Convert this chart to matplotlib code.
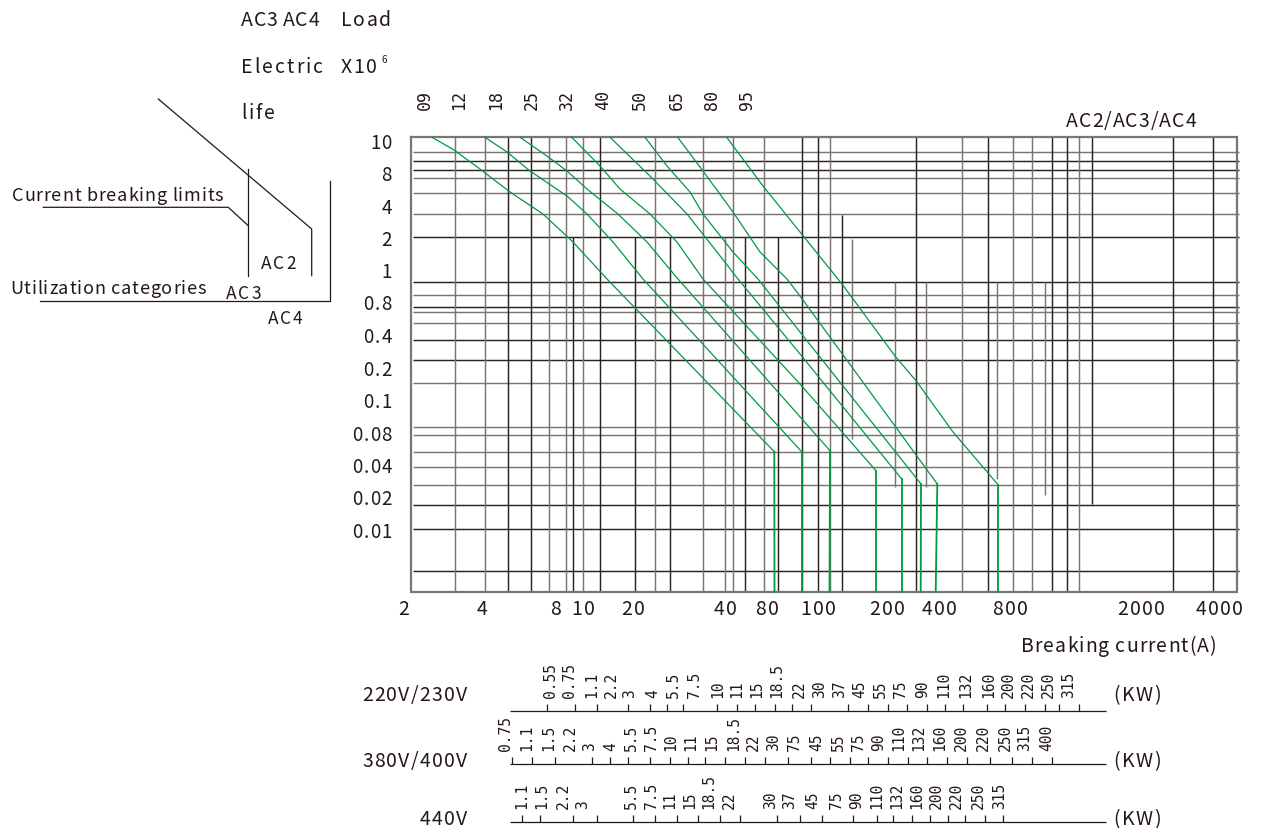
import matplotlib.pyplot as plt
from matplotlib.font_manager import findfont, FontProperties
from matplotlib.ft2font import FT2Font

# The chart is a schematic: the scales are not true log scales, so every
# element is placed in a pixel-like layout space (x to the right, y down).

TEXT = '#231815'
DARK = '#2b2321'
GREY = '#7a7473'
GREEN = '#009944'
SANS = ['Noto Sans CJK SC', 'DejaVu Sans']
MONO = 'DejaVu Sans Mono'
DPI = 100

# 1. Data.
# Electric life axis (x10^6 operations).
life_labels = ['10', '8', '4', '2', '1', '0.8', '0.4', '0.2', '0.1',
               '0.08', '0.04', '0.02', '0.01']
life_pos = [142, 174, 207, 239, 271, 303, 336, 369, 401, 434, 466, 498, 531]

# Breaking current axis (A).
current_labels = ['2', '4', '8', '10', '20', '40', '80', '100', '200',
                  '400', '800', '2000', '4000']
current_pos = [404, 482, 556, 583, 633, 725, 767, 818, 887, 939, 1010,
               1141, 1219]

# Contactor frame sizes along the top.
frame_labels = ['09', '12', '18', '25', '32', '40', '50', '65', '80', '95']
frame_pos = [425, 459, 496, 532, 567, 603, 640, 677, 712, 747]

# Grid lines.
hgrid = [152.5, 161.7, 171, 179.3, 194, 215, 238.3, 282.5, 296, 307.5,
         313.3, 323.5, 340.5, 360.5, 384, 428, 436, 452.7, 467.7, 486,
         506.3, 530, 571.5]
hgrid_dark = [161.7, 171, 238.3, 282.5, 307.5, 340.5, 360.5, 506.3, 530,
              571.5]
vgrid = [455, 485, 508, 530.5, 549, 566, 582.7, 599.5, 655, 702.7, 733,
         764.3, 801.7, 817.5, 829.5, 915.7, 962, 988.3, 1013.3, 1032.3,
         1052.3, 1067.3, 1079.3, 1172.5, 1213.3]
vgrid_dark = [508, 530.5, 599.5, 801.7, 817.5, 915.7, 988.3, 1052.3,
              1067.3, 1172.5, 1213.3]
# Shorter verticals starting lower down: (x, top, bottom)
vshort = [(573.3, 238.3, 593), (634.8, 238.3, 593), (669.5, 238.3, 593),
          (725, 238.3, 593), (745, 238.3, 593), (777.7, 238.3, 593),
          (841.7, 216, 593), (851.7, 240, 440), (895, 283, 488),
          (926, 283, 488), (996.7, 283, 480), (1045, 283, 496),
          (1092.3, 138.3, 505)]
vshort_dark = [573.3, 634.8, 669.5, 745, 777.7, 841.7, 1092.3]

# Life curves (one per contactor group), knee then breaking limit drop.
curve_a = [(432, 138.3), (454, 151), (480, 170), (510, 193), (543, 215),
           (573, 243), (607, 280), (774.3, 452.7), (774.5, 593)]
curve_b = [(485, 138.3), (507, 153), (530, 172), (567, 197), (587, 215),
           (613, 243), (643, 280), (801.7, 452.7), (801.7, 593)]
curve_c = [(520, 138.3), (547, 157), (567, 172), (587, 190), (618, 215),
           (647, 243), (678, 280), (830, 451.7), (829.5, 593)]
curve_d = [(571.7, 138.3), (600, 167), (620, 190), (650, 215), (677, 243),
           (703, 280), (800, 385), (876, 471.7), (876, 593)]
curve_e = [(610, 138.3), (650, 177), (687, 215), (717, 253), (738, 280),
           (800, 355), (901.7, 480), (901.7, 593)]
curve_f = [(645, 138.3), (667, 167), (690, 193), (703, 215), (733, 253),
           (758, 280), (800, 333), (921, 485), (920.7, 593)]
curve_g = [(677.7, 138.3), (703, 172), (733, 213), (760, 253), (787, 280),
           (800, 297), (937.3, 485), (935.7, 593)]
curve_h = [(726.7, 138.3), (763, 187), (800, 233), (842, 285), (895, 357),
           (917, 383), (953, 433), (998.3, 486), (998.3, 593)]
curves = [curve_a, curve_b, curve_c, curve_d, curve_e, curve_f, curve_g,
          curve_h]

# Motor power scales (kW).
v220_labels = ['0.55', '0.75', '1.1', '2.2', '3', '4', '5.5', '7.5', '10',
               '11', '15', '18.5', '22', '30', '37', '45', '55', '75', '90',
               '110', '132', '160', '200', '220', '250', '315']
v220_pos = [550.7, 569.3, 591.7, 611.7, 629.3, 652.3, 673.3, 695, 717.3,
            736.7, 756.7, 776.7, 799, 820, 840, 860, 880, 900, 923, 943.3,
            966, 988.3, 1008.3, 1028.3, 1048.3, 1068.3]
v220_ticks = [546.7, 575, 596.7, 628.3, 650, 666.7, 683.3, 716.7, 736.7,
              755, 775, 791.7, 811, 848.3, 868.3, 888.3, 906.7, 926.7, 945,
              963.3, 986.7, 1005, 1025, 1045, 1059.3, 1079.3]

v380_labels = ['0.75', '1.1', '1.5', '2.2', '3', '4', '5.5', '7.5', '10',
               '11', '15', '18.5', '22', '30', '75', '45', '55', '75', '90',
               '110', '132', '160', '200', '220', '250', '315', '400']
v380_pos = [505.7, 526.7, 548.3, 570, 589.3, 610.7, 631.7, 651.7, 670.7,
            690.7, 711.7, 733.3, 753.3, 774, 795, 817, 838.3, 858.3, 878.3,
            898.3, 918.3, 940, 961.7, 983.3, 1005, 1025, 1046.7]
v380_ticks = [511.7, 531.7, 555, 591.7, 610, 628.3, 650, 670, 688.3, 705,
              725, 745, 765, 788.3, 811, 830, 850, 868.3, 888.3, 908.3,
              926.7, 946.7, 966.7, 990, 1011.7, 1031.7, 1051.7]

v440_labels = ['1.1', '1.5', '2.2', '3', '5.5', '7.5', '11', '15', '18.5',
               '22', '30', '37', '45', '75', '90', '110', '132', '160',
               '200', '220', '250', '315']
v440_pos = [521.7, 541.7, 563.3, 582.7, 631.7, 651.7, 669.3, 689.3, 708.3,
            729.3, 770.7, 789.3, 813, 836.7, 856.7, 876.7, 896.7, 916.7,
            936.7, 956.7, 978.3, 1000]
v440_ticks = [521.7, 540, 573.3, 596.7, 633.3, 655, 676.7, 698.3, 720, 740,
              776.7, 800, 821.7, 853.3, 876.7, 893.3, 911.7, 930, 948.3,
              965, 985, 1003.3]

scales = [('220V/230V', 711.7, 694, v220_labels, v220_pos, v220_ticks),
          ('380V/400V', 765, 760, v380_labels, v380_pos, v380_ticks),
          ('440V', 823.3, 818, v440_labels, v440_pos, v440_ticks)]

# 2. Figure.
fig = plt.figure(figsize=(12.61, 8.29), dpi=DPI)
ax = fig.add_axes([0, 0, 1, 1])
ax.set_xlim(0, 1261)
ax.set_ylim(829, 0)
ax.axis('off')

# The original lettering is set slightly loose; matplotlib has no
# tracking, so letters are placed one by one using the font advances.
_font = FT2Font(findfont(FontProperties(family='Noto Sans CJK SC')))


def spaced(x, y, s, size, track=1.0, ha='left'):
    _font.set_size(size, DPI)
    adv = [_font.load_char(ord(ch)).linearHoriAdvance / 65536 for ch in s]
    total = sum(adv) + track * (len(s) - 1)
    if ha == 'right':
        x = x - total
    elif ha == 'center':
        x = x - total / 2
    base = y + 0.367 * size * DPI / 72
    for ch, a in zip(s, adv):
        if ch != ' ':
            ax.text(x, base, ch, ha='left', va='baseline', fontsize=size,
                    family=SANS, color=TEXT)
        x += a + track


LEFT, RIGHT, TOP, BOTTOM = 411, 1236.7, 138.3, 593.3

for y in hgrid:
    col = DARK if y in hgrid_dark else GREY
    ax.hlines(y, LEFT + 2, RIGHT + 2.5, color=col, lw=1.05)
for x in vgrid:
    col = DARK if x in vgrid_dark else GREY
    ax.vlines(x, TOP, BOTTOM, color=col, lw=1.05)
for x, y0, y1 in vshort:
    col = DARK if x in vshort_dark else GREY
    ax.vlines(x, y0, y1, color=col, lw=1.05)

# frame
ax.plot([LEFT, RIGHT, RIGHT, LEFT, LEFT], [TOP, TOP, BOTTOM, BOTTOM, TOP],
        color=GREY, lw=1.6, solid_joinstyle='miter')

for c in curves:
    xs = [p[0] for p in c]
    ys = [p[1] for p in c]
    ax.plot(xs[:-1], ys[:-1], color=GREEN, lw=0.9)
    ax.plot(xs[-2:], ys[-2:], color=GREEN, lw=1.3)

# axis labels
for lab, y in zip(life_labels, life_pos):
    spaced(392, y, lab, 13.5, track=1.3, ha='right')
for lab, x in zip(current_labels, current_pos):
    spaced(x, 608, lab, 14, track=1.3, ha='center')
for lab, x in zip(frame_labels, frame_pos):
    ax.text(x, 100, lab, ha='center', va='center', rotation=90,
            fontsize=12, family=MONO, color=TEXT)

spaced(1131, 120, 'AC2/AC3/AC4', 14, track=1.0, ha='center')
spaced(1216, 645, 'Breaking current(A)', 14, track=1.0, ha='right')

# title block
spaced(241, 19, 'AC3 AC4', 14, track=0.6)
spaced(341, 19, 'Load', 14, track=1.6)
spaced(241, 66, 'Electric', 14, track=2.0)
spaced(341, 66, 'X10', 14, track=1.6)
ax.text(382, 60, '6', ha='left', va='center', fontsize=7,
        family=SANS, color=TEXT)
spaced(241, 112, 'life', 14, track=2.0)

# key diagram on the left
ax.plot([158.3, 311.7, 311.7], [100, 230, 276.7], color=TEXT, lw=0.9)
ax.plot([248.3, 248.3], [170, 276.7], color=TEXT, lw=0.9)
ax.plot([43.3, 228.3, 248.3], [208.3, 208.3, 226.7], color=TEXT, lw=0.9)
ax.plot([40, 330, 330], [301.7, 301.7, 181.7], color=TEXT, lw=0.9)
spaced(11.7, 194, 'Current breaking limits', 13, track=0.8)
spaced(10, 287, 'Utilization categories', 13, track=0.8)
spaced(278.3, 263, 'AC2', 12.5, track=1.8, ha='center')
spaced(243.3, 293, 'AC3', 12.5, track=1.8, ha='center')
spaced(285, 318, 'AC4', 12.5, track=1.8, ha='center')

# motor power scales
for name, base, ylab, labels, pos, ticks in scales:
    ax.hlines(base, 510, 1106, color=TEXT, lw=0.9)
    ax.vlines(ticks, base - 7, base, color=TEXT, lw=0.9)
    for lab, x in zip(labels, pos):
        ax.text(x, base - 14, lab, ha='center', va='bottom', rotation=90,
                fontsize=10.5, family=MONO, color=TEXT)
    spaced(466.7, ylab, name, 14, track=1.2, ha='right')
    spaced(1137, ylab, '(KW)', 14, track=1.3, ha='center')

fig.savefig('out.png', dpi=DPI)
